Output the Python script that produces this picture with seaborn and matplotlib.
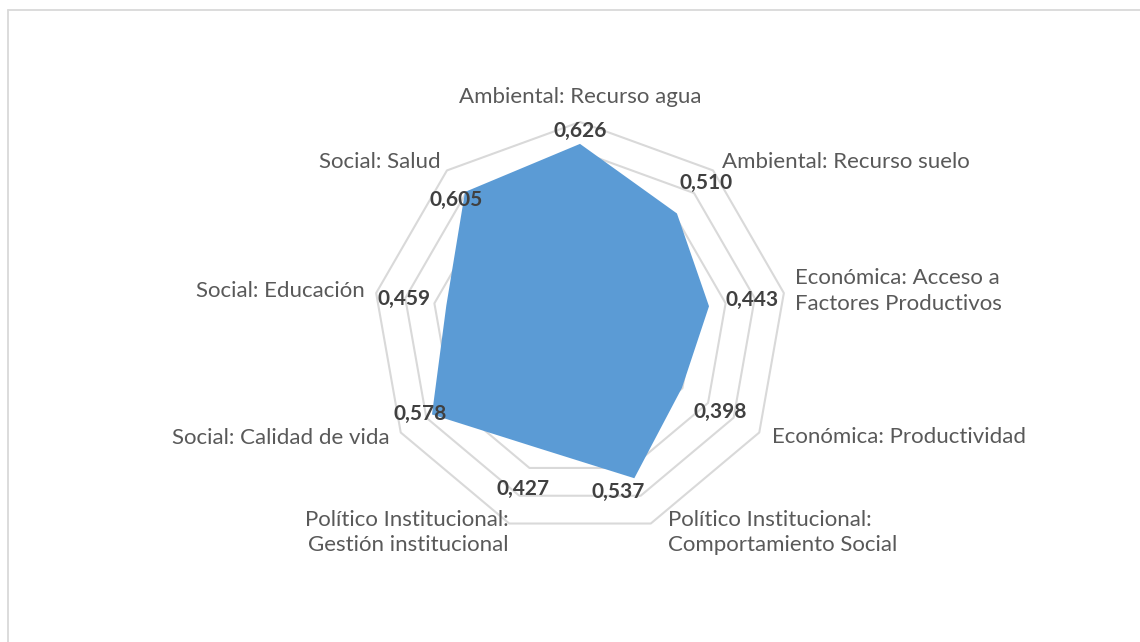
import numpy as np
import matplotlib
matplotlib.use("Agg")
import matplotlib.pyplot as plt
from matplotlib.lines import Line2D
import seaborn as sns

# Data
categories = [
    "Ambiental: Recurso agua",
    "Ambiental: Recurso suelo",
    "Económica: Acceso a\nFactores Productivos",
    "Económica: Productividad",
    "Político Institucional:\nComportamiento Social",
    "Político Institucional:\nGestión institucional",
    "Social: Calidad de vida",
    "Social: Educación",
    "Social: Salud",
]
values = [0.626, 0.510, 0.443, 0.398, 0.537, 0.427, 0.578, 0.459, 0.605]
ring_levels = [0.1, 0.2, 0.3, 0.4, 0.5, 0.6, 0.7]

# Style
sns.set_style("white")
plt.rcParams['font.family'] = ['Lato', 'DejaVu Sans']

W, H = 1140, 642
fig = plt.figure(figsize=(W / 100, H / 100), dpi=100)

# polar axes centred at (580, 329) px, outer ring radius 207 px
cx, cy, R = 580, 329, 207
ax = fig.add_axes([(cx - R) / W, (H - cy - R) / H, 2 * R / W, 2 * R / H],
                  projection='polar')
ax.set_theta_zero_location('N')
ax.set_theta_direction(-1)
ax.set_ylim(0, ring_levels[-1])
ax.grid(False)
ax.set_xticks([])
ax.set_yticks([])
ax.spines['polar'].set_visible(False)
ax.patch.set_alpha(0)

n = len(categories)
angles = np.linspace(0, 2 * np.pi, n, endpoint=False)
closed = np.append(angles, angles[0])

# -----------------------------
# polygon grid rings
# -----------------------------
for lvl in ring_levels:
    ax.plot(closed, [lvl] * (n + 1), color='#d9d9d9', lw=1.5,
            clip_on=False, zorder=1)

# filled series
ax.fill(closed, np.append(values, values[0]), color='#5b9bd5', lw=0, zorder=2)

# -----------------------------
# data labels
# -----------------------------
value_offsets = [(0, -13), (29, -31), (43, -6), (38, 24), (-16, 14),
                 (-14, 41), (-12, 0), (-42, -6), (-9, 8)]
for a, v, (dx, dy) in zip(angles, values, value_offsets):
    ax.annotate(f"{v:.3f}".replace('.', ','), xy=(a, v),
                xytext=(dx, -dy), textcoords='offset pixels',
                ha='center', va='center', fontsize=15, fontweight='bold',
                color='#404040', zorder=5, annotation_clip=False)

# -----------------------------
# category labels
# -----------------------------
cat_offsets = [(0, -25, 'center'), (9, -8, 'left'), (11, -2, 'left'),
               (13, 5, 'left'), (17, 9, 'left'), (-1, 9, 'right'),
               (-11, 5, 'right'), (-11, -2, 'right'), (-6, -8, 'right')]
for a, lab, (dx, dy, ha) in zip(angles, categories, cat_offsets):
    ax.annotate(lab, xy=(a, ring_levels[-1]), xytext=(dx, -dy),
                textcoords='offset pixels', ha=ha, va='center',
                multialignment=ha if ha != 'center' else 'center',
                fontsize=16, color='#595959', linespacing=1.35,
                annotation_clip=False)

# chart area border (top and left edges visible)
fig.add_artist(Line2D([8 / W, 1], [1 - 10 / H] * 2, color='#d9d9d9', lw=1.3,
                      transform=fig.transFigure))
fig.add_artist(Line2D([8 / W] * 2, [0, 1 - 10 / H], color='#d9d9d9', lw=1.3,
                      transform=fig.transFigure))

fig.savefig("out.png", dpi=100)
